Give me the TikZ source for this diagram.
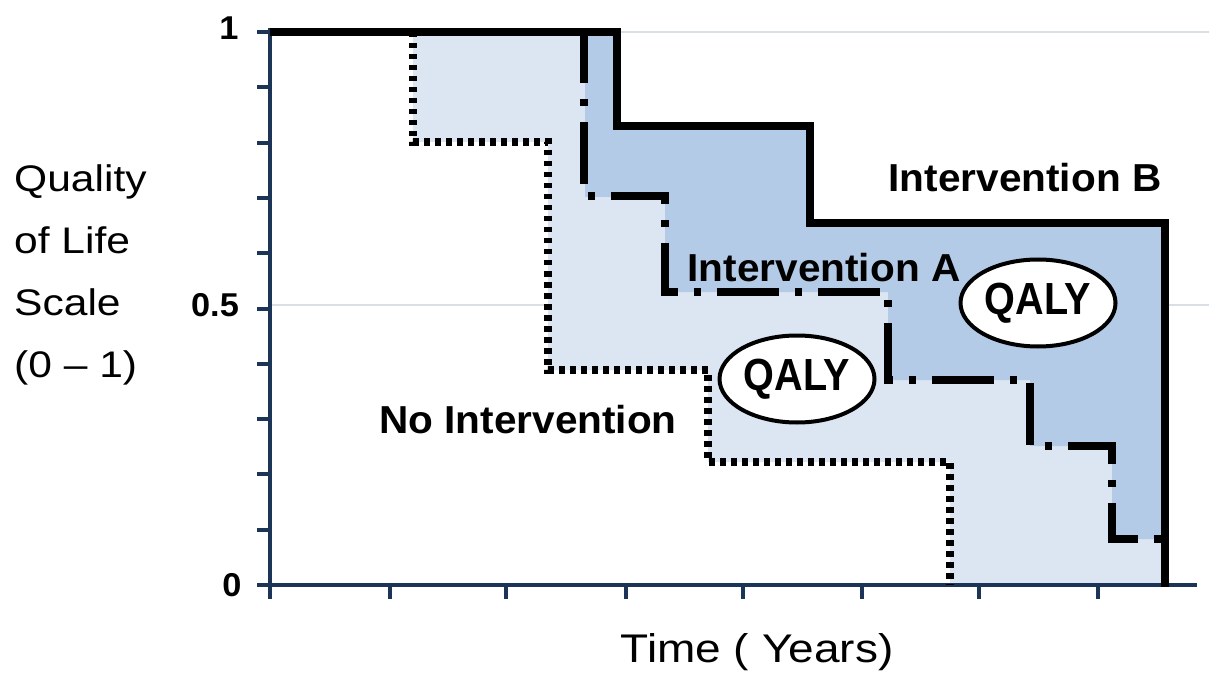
\documentclass[tikz,border=0pt]{standalone}
\usepackage{fontspec}
\setmainfont{Liberation Sans}[FakeStretch=1.15]
\newfontfamily\labelfont{Liberation Sans}[FakeStretch=1.04]
\newfontfamily\qalyfont{Liberation Sans}[FakeStretch=0.88]
\usetikzlibrary{shapes.geometric}
\definecolor{axisblue}{HTML}{1C3557}
\definecolor{fillA}{HTML}{DCE6F2}
\definecolor{fillB}{HTML}{B3CBE6}
\definecolor{gridgray}{HTML}{DADFE6}
\tikzset{
  axisline/.style={axisblue, line width=4.5pt},
  tickline/.style={axisblue, line width=4pt},
  gridline/.style={gridgray, line width=1.2pt},
  curveB/.style={black, line width=8.5pt},
  curveA/.style={black, line width=8.5pt, dash pattern=on 62pt off 16pt on 7pt off 16pt},
  curveN/.style={black, line width=7.5pt, dash pattern=on 5.5pt off 5.5pt},
  curvelabel/.style={font=\labelfont\bfseries\fontsize{39}{39}\selectfont, inner sep=0pt},
  ticklabel/.style={font=\labelfont\bfseries\fontsize{33}{33}\selectfont, inner sep=0pt},
  axistitle/.style={inner sep=0pt},
  qaly/.style={ellipse, draw, line width=4pt, fill=white, inner sep=0pt,
    font=\qalyfont\bfseries\fontsize{45}{45}\selectfont,
    minimum width=155pt, minimum height=87pt}
}
\begin{document}
\begin{tikzpicture}[x=1pt, y=-1pt]
\useasboundingbox (0,0) rectangle (1209,676);
\fill[white] (0,0) rectangle (1209,676);

% reference lines at 1 and 0.5
\draw[gridline] (270,32) -- (1209,32);
\draw[gridline] (270,305) -- (1209,305);

% area gained by intervention A over no intervention
\fill[fillA] (413,32) -- (585,32) -- (585,197) -- (665,197) -- (665,292) -- (888,292)
  -- (888,380) -- (1030,380) -- (1030,446) -- (1112,446) -- (1112,539) -- (1165,539)
  -- (1165,585) -- (950,585) -- (950,462) -- (708,462) -- (708,370) -- (548,370)
  -- (548,142) -- (413,142) -- cycle;
% area gained by intervention B over intervention A
\fill[fillB] (585,32) -- (617,32) -- (617,126) -- (810,126) -- (810,223) -- (1165,223)
  -- (1165,539) -- (1112,539) -- (1112,446) -- (1030,446) -- (1030,380) -- (888,380)
  -- (888,292) -- (665,292) -- (665,197) -- (585,197) -- cycle;

% axes
\draw[axisline] (270,28) -- (270,587);
\draw[axisline] (268,585) -- (1197,585);
\foreach \v in {0,1,...,10}
  \draw[tickline] (257,{585-55.3*\v}) -- (270,{585-55.3*\v});
\foreach \x in {270,390,506,626,743,862,979,1098}
  \draw[tickline] (\x,585) -- (\x,599);

% survival curves
\draw[curveN] (270,32) -- (413,32) -- (413,142) -- (548,142) -- (548,370) -- (708,370)
  -- (708,462) -- (950,462) -- (950,585);
\draw[curveA] (270,32) -- (584,32) -- (584,196) -- (665,196) -- (665,292) -- (888,292)
  -- (888,380) -- (1030,380) -- (1030,446) -- (1112,446) -- (1112,539) -- (1165,539)
  -- (1165,585);
\draw[curveB] (270,32) -- (617,32) -- (617,126) -- (810,126) -- (810,223) -- (1165,223)
  -- (1165,587);

% tick labels
\node[ticklabel] (y1) at (229,28) {1};
\node[ticklabel] (y05) at (215,305) {0.5};
\node[ticklabel] (y0) at (232,585) {0};

% axis titles
\node[axistitle, font=\fontsize{37}{62}\selectfont, align=left, anchor=west] (ytitle)
  at (14,275) {Quality\\of Life\\Scale\\(0 -- 1)};
\node[axistitle, font=\fontsize{40}{40}\selectfont] (xtitle) at (757,652) {Time ( Years)};

% curve labels
\node[curvelabel] (labB) at (1025,178) {Intervention B};
\node[curvelabel] (labA) at (824,268) {Intervention A};
\node[curvelabel] (labN) at (528,420) {No Intervention};

% QALY markers
\node[qaly] (qaly1) at (797,379) {QALY};
\node[qaly] (qaly2) at (1038,303) {QALY};
\end{tikzpicture}
\end{document}
